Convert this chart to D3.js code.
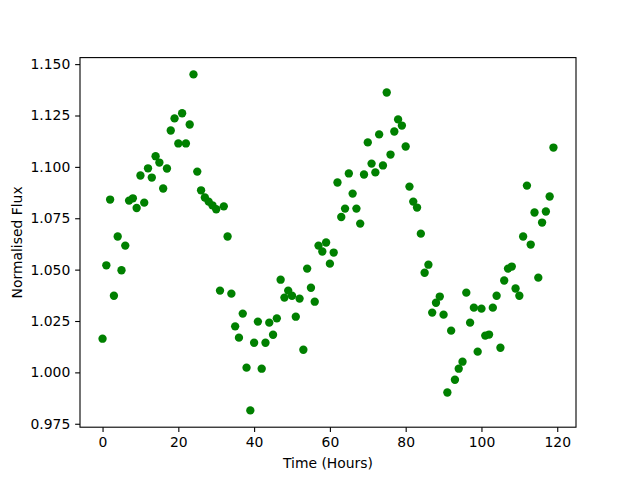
<!DOCTYPE html>
<html>
<head>
<meta charset="utf-8">
<script src="https://cdn.jsdelivr.net/npm/d3@7"></script>
<style>
  body { margin: 0; background: #fff; }
  svg text { font-family: "DejaVu Sans", sans-serif; }
</style>
</head>
<body>
<div id="chart"></div>
<script>
// hours since start of observation
var hours = d3.range(0, 120);

// normalised flux, one reading per hour
var flux = [
  1.0164, 1.0521, 1.0841, 1.0373, 1.0661, 1.0497, 1.0617, 1.0836, 1.0847, 1.0800,
  1.0958, 1.0826, 1.0993, 1.0948, 1.1052, 1.1021, 1.0895, 1.0992, 1.1177, 1.1236,
  1.1114, 1.1261, 1.1114, 1.1206, 1.1450, 1.0977, 1.0886, 1.0851, 1.0831, 1.0813,
  1.0794, 1.0398, 1.0808, 1.0661, 1.0383, 1.0224, 1.0169, 1.0286, 1.0023, 0.9815,
  1.0144, 1.0247, 1.0018, 1.0144, 1.0242, 1.0183, 1.0263, 1.0451, 1.0364, 1.0398,
  1.0373, 1.0271, 1.0359, 1.0110, 1.0505, 1.0412, 1.0344, 1.0617, 1.0588, 1.0632,
  1.0529, 1.0583, 1.0924, 1.0756, 1.0797, 1.0968, 1.0870, 1.0797, 1.0724, 1.0963,
  1.1119, 1.1016, 1.0973, 1.1158, 1.1007, 1.1362, 1.1060, 1.1172, 1.1231, 1.1201,
  1.1099, 1.0904, 1.0831, 1.0802, 1.0675, 1.0485, 1.0524, 1.0291, 1.0339, 1.0369,
  1.0281, 0.9902, 1.0203, 0.9964, 1.0018, 1.0052, 1.0388, 1.0242, 1.0315, 1.0101,
  1.0310, 1.0179, 1.0184, 1.0315, 1.0373, 1.0120, 1.0447, 1.0505, 1.0515, 1.0408,
  1.0373, 1.0661, 1.0909, 1.0622, 1.0778, 1.0461, 1.0729, 1.0783, 1.0856, 1.1094
];

var xTicks = [0, 20, 40, 60, 80, 100, 120];
var yTicks = [0.975, 1.000, 1.025, 1.050, 1.075, 1.100, 1.125, 1.150];

var margin = {top: 57.6, right: 64, bottom: 52.8, left: 80},
    width = 640 - margin.left - margin.right,
    height = 480 - margin.top - margin.bottom;

var svg = d3.select("#chart")
    .append("svg")
    .attr("width", 640)
    .attr("height", 480)
    .append("g")
    .attr("transform", "translate(" + margin.left + "," + margin.top + ")");

// matplotlib style 5% padding around the data
function padded(ext) {
    var pad = (ext[1] - ext[0]) * 0.05;
    return [ext[0] - pad, ext[1] + pad];
}

var x = d3.scaleLinear()
    .domain(padded(d3.extent(hours)))
    .range([0, width]);

var y = d3.scaleLinear()
    .domain(padded(d3.extent(flux)))
    .range([height, 0]);

var tick = 3.5 * 100 / 72;

var xAxis = svg.append("g")
    .attr("transform", "translate(0," + height + ")")
    .call(d3.axisBottom(x).tickValues(xTicks).tickSize(tick).tickPadding(tick).tickFormat(d3.format("d")));

var yAxis = svg.append("g")
    .call(d3.axisLeft(y).tickValues(yTicks).tickSize(tick).tickPadding(tick).tickFormat(d3.format(".3f")));

[xAxis, yAxis].forEach(function(ax) {
    ax.select(".domain").remove();
    ax.selectAll("line").attr("stroke", "#000").attr("stroke-width", 1.1);
    ax.selectAll("text").attr("fill", "#000").style("font-size", "13.9px");
});

// points
svg.selectAll("circle")
    .data(hours)
    .enter()
    .append("circle")
    .attr("cx", function(d, i) { return x(hours[i]); })
    .attr("cy", function(d, i) { return y(flux[i]); })
    .attr("r", 4.17)
    .attr("fill", "#008000");

// frame
svg.append("rect")
    .attr("width", width)
    .attr("height", height)
    .attr("fill", "none")
    .attr("stroke", "#000")
    .attr("stroke-width", 1.1);

svg.append("text")
    .attr("x", width / 2)
    .attr("y", height + 41)
    .attr("text-anchor", "middle")
    .style("font-size", "13.9px")
    .text("Time (Hours)");

svg.append("text")
    .attr("transform", "translate(" + (17 - margin.left) + "," + (height / 2) + ")rotate(-90)")
    .attr("text-anchor", "middle")
    .attr("dominant-baseline", "central")
    .style("font-size", "13.9px")
    .text("Normalised Flux");
</script>
</body>
</html>
